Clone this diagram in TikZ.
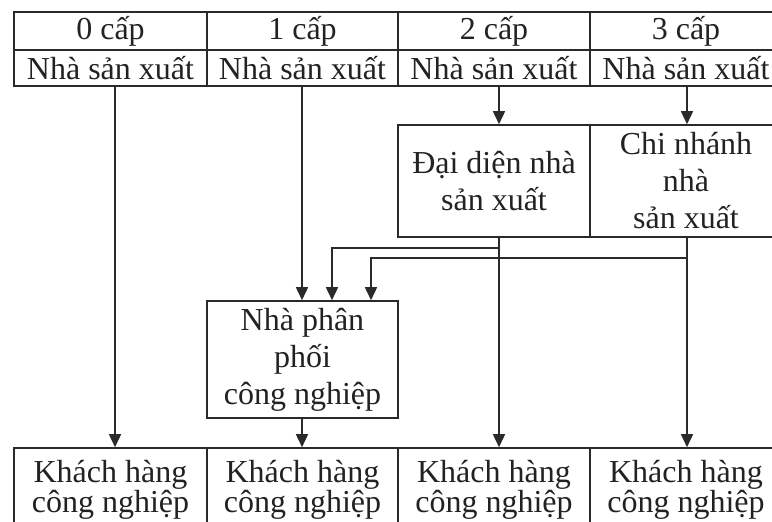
\documentclass[tikz,border=0pt]{standalone}
\usepackage{fontspec}
\setmainfont{Liberation Serif}
\usetikzlibrary{arrows.meta}
\definecolor{linec}{HTML}{2A2A2A}
\definecolor{textc}{HTML}{222222}
\begin{document}
\begin{tikzpicture}[x=1pt,y=-1pt,
  cell/.style={draw=linec, line width=1.6pt, inner sep=0pt, align=center,
    text=textc, font=\fontsize{32}{37}\selectfont},
  colA/.style={minimum width=193pt},
  colB/.style={minimum width=191pt},
  colC/.style={minimum width=192pt},
  tight/.style={font=\fontsize{32}{26.5}\selectfont},
  flow/.style={draw=linec, line width=1.6pt, -{Triangle[length=13pt,width=12pt]}}]
\useasboundingbox (0,0) rectangle (772,522);
\clip (0,0) rectangle (772,522);

% header row: number of levels
\node[cell, colA, minimum height=38pt] (h0) at (110.5,31) {0 cấp};
\node[cell, colB, minimum height=38pt] (h1) at (302.5,31) {1 cấp};
\node[cell, colC, minimum height=38pt] (h2) at (494,31) {2 cấp};
\node[cell, colC, minimum height=38pt] (h3) at (686,31) {3 cấp};

% producer row
\node[cell, colA, minimum height=36pt] (p0) at (110.5,68) {Nhà sản xuất};
\node[cell, colB, minimum height=36pt] (p1) at (302.5,68) {Nhà sản xuất};
\node[cell, colC, minimum height=36pt] (p2) at (494,68) {Nhà sản xuất};
\node[cell, colC, minimum height=36pt] (p3) at (686,68) {Nhà sản xuất};

% intermediaries
\node[cell, colC, minimum height=112pt] (dd) at (494,181) {Đại diện nhà\\sản xuất};
\node[cell, colC, minimum height=112pt] (cn) at (686,181) {Chi nhánh\\nhà\\sản xuất};
\node[cell, colB, minimum height=117pt] (dist) at (302.5,359.5) {Nhà phân\\phối\\công nghiệp};

% industrial customers
\node[cell, tight, colA, minimum height=84pt] (k0) at (110.5,490) {Khách hàng\\công nghiệp};
\node[cell, tight, colB, minimum height=84pt] (k1) at (302.5,490) {Khách hàng\\công nghiệp};
\node[cell, tight, colC, minimum height=84pt] (k2) at (494,490) {Khách hàng\\công nghiệp};
\node[cell, tight, colC, minimum height=84pt] (k3) at (686,490) {Khách hàng\\công nghiệp};

% vertical tracks of the channels
\coordinate (x0) at (115,0);
\coordinate (x1) at (302,0);
\coordinate (x2) at (499,0);
\coordinate (x3) at (687,0);
\coordinate (j1) at (332,248);
\coordinate (j2) at (371,258);

\draw[flow] (p0.south -| x0) -- (k0.north -| x0);
\draw[flow] (p1.south -| x1) -- (dist.north -| x1);
\draw[flow] (p2.south -| x2) -- (dd.north -| x2);
\draw[flow] (p3.south -| x3) -- (cn.north -| x3);
\draw[flow] (dist.south -| x1) -- (k1.north -| x1);
\draw[flow] (dd.south -| x2) -- (k2.north -| x2);
\draw[flow] (cn.south -| x3) -- (k3.north -| x3);
\draw[flow] (dd.south -| x2) |- (j1) -- (dist.north -| j1);
\draw[flow] (cn.south -| x3) |- (j2) -- (dist.north -| j2);
\end{tikzpicture}
\end{document}
